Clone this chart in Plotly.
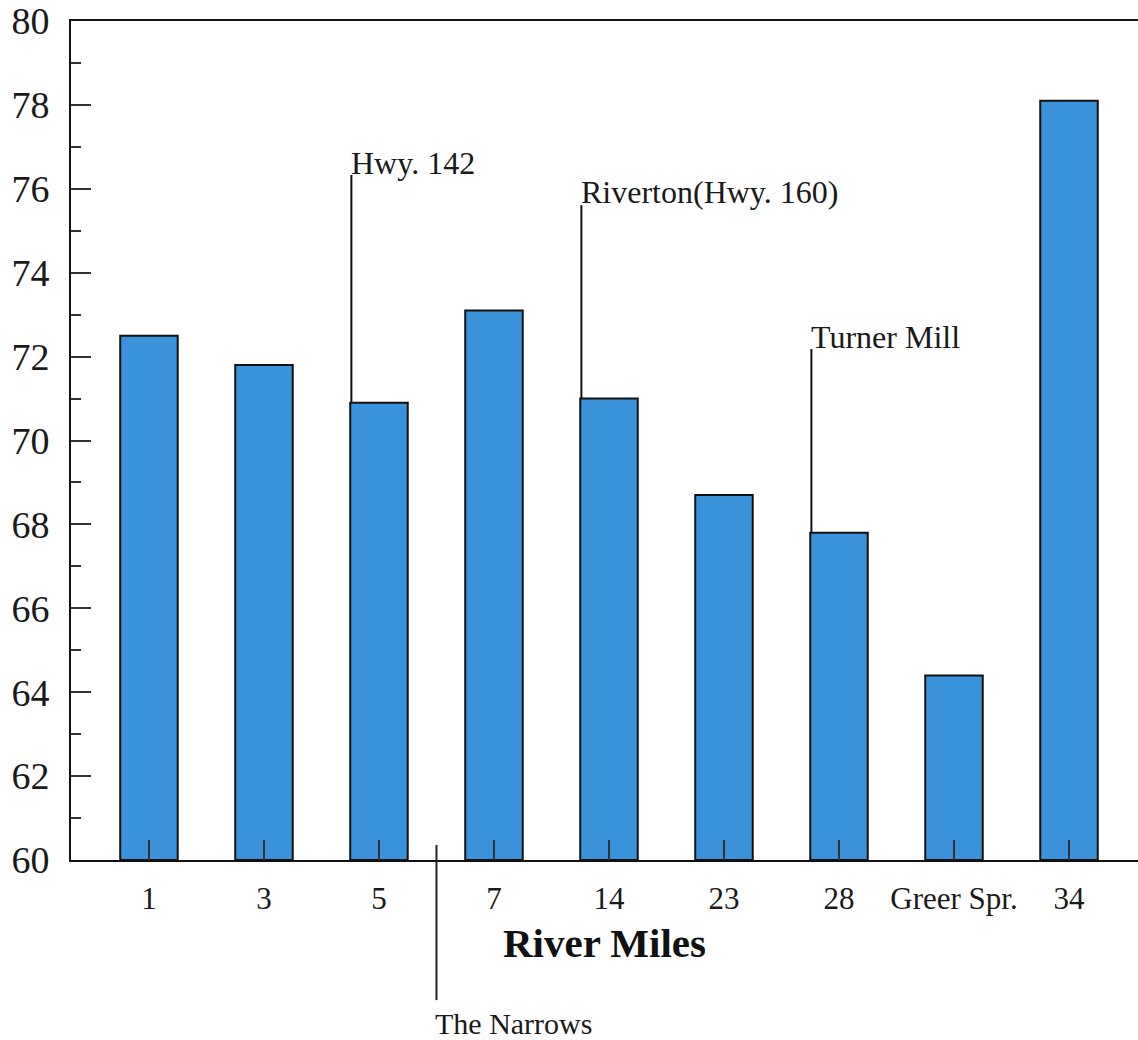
import plotly.graph_objects as go

categories = ["1", "3", "5", "7", "14", "23", "28", "Greer Spr.", "34"]
values = [72.5, 71.8, 70.9, 73.1, 71.0, 68.7, 67.8, 64.4, 78.1]

# labelled landmarks: (category index of bar, label, label y value, line top y value)
landmarks = [
    (2, "Hwy. 142", 76.62, 76.33),
    (4, "Riverton(Hwy. 160)", 75.92, 75.61),
    (6, "Turner Mill", 72.47, 72.18),
]
narrows_label = "The Narrows"
narrows_pos = 2.5

x_range = [-0.678, 8.6]
y_range = [60, 80]
serif = "Liberation Serif, Times New Roman, serif"
ink = "#1a1a1a"

fig = go.Figure()
fig.add_trace(go.Bar(
    x=list(range(len(categories))), y=[v - y_range[0] for v in values], base=y_range[0],
    width=0.5,
    marker=dict(color="#3a93da", line=dict(color="#111111", width=2)),
    hoverinfo="skip",
))

shapes = []
annotations = []
for idx, label, ty, ly in landmarks:
    xl = idx - 0.24
    shapes.append(dict(type="line", xref="x", yref="y", x0=xl, x1=xl,
                       y0=values[idx], y1=ly, line=dict(color="#111111", width=2)))
    annotations.append(dict(x=xl - 0.02, y=ty, xref="x", yref="y", text=label,
                            showarrow=False, xanchor="left", yanchor="middle",
                            font=dict(family=serif, size=32, color=ink)))

shapes.append(dict(type="line", xref="x", yref="paper", x0=narrows_pos, x1=narrows_pos,
                   y0=0.018, y1=-0.167, line=dict(color="#222222", width=2)))
annotations.append(dict(x=narrows_pos - 0.03, y=-0.195, xref="x", yref="paper", text=narrows_label,
                        showarrow=False, xanchor="left", yanchor="middle",
                        font=dict(family=serif, size=30, color=ink)))

fig.update_layout(
    width=1138, height=1040,
    margin=dict(l=71, r=0, t=21, b=180),
    plot_bgcolor="white", paper_bgcolor="white",
    showlegend=False,
    shapes=shapes, annotations=annotations,
    bargap=0.5,
)
fig.update_xaxes(
    range=x_range, tickmode="array", tickvals=list(range(len(categories))), ticktext=categories,
    ticks="inside", ticklen=20, tickwidth=1.5, tickcolor="#333333",
    showline=True, linecolor="#111111", linewidth=2, mirror=True,
    showgrid=False, zeroline=False,
    tickfont=dict(family=serif, size=31, color=ink),
    ticklabelstandoff=10,
    title=dict(text="<b>River Miles</b>", font=dict(family=serif, size=41, color="#111111"), standoff=13),
)
fig.update_yaxes(
    range=y_range, tickmode="linear", tick0=60, dtick=2,
    ticks="inside", ticklen=20, tickwidth=1.5, tickcolor="#333333",
    minor=dict(ticks="inside", ticklen=10, dtick=1, tickcolor="#333333", tickwidth=1.5),
    showline=True, linecolor="#111111", linewidth=2, mirror=False,
    showgrid=False, zeroline=False,
    tickfont=dict(family=serif, size=38, color=ink),
    ticklabelstandoff=12,
    ticklabeloverflow="allow",
)

fig.write_html("out.html", config={"displayModeBar": False},
               post_script="document.body.style.margin='0';document.body.style.overflow='hidden';")
